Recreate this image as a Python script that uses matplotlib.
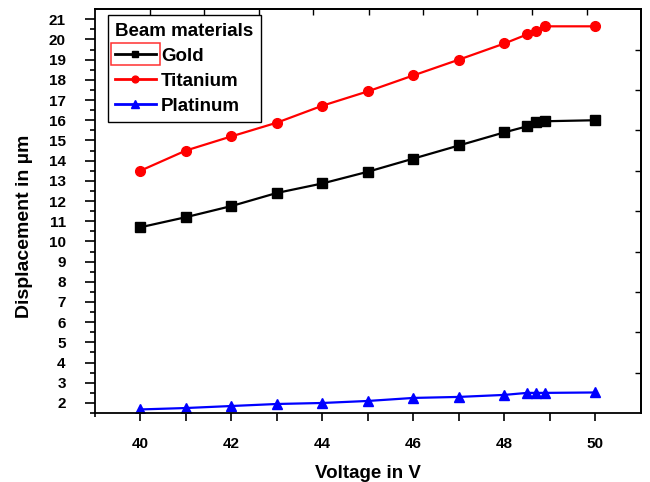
import numpy as np
import matplotlib
matplotlib.use("Agg")
import matplotlib.pyplot as plt
from matplotlib.ticker import FixedLocator, FuncFormatter
from matplotlib.patches import Rectangle

plt.rcParams['font.family'] = ['Liberation Sans', 'DejaVu Sans']

# data
voltage = [40, 41, 42, 43, 44, 45, 46, 47, 48, 48.5, 48.7, 48.9, 50]
gold = [10.7, 11.2, 11.75, 12.4, 12.87, 13.45, 14.1, 14.75, 15.4, 15.7, 15.9, 15.95, 16.0]
titanium = [13.5, 14.5, 15.2, 15.88, 16.72, 17.43, 18.22, 19.0, 19.8, 20.25, 20.42, 20.65, 20.65]
platinum = [1.68, 1.75, 1.85, 1.95, 2.0, 2.1, 2.25, 2.3, 2.4, 2.5, 2.5, 2.5, 2.52]

x_labels = [40, 42, 44, 46, 48, 50]
y_ticks = list(range(2, 22))

fig = plt.figure(figsize=(6.5, 4.82), dpi=100)
ax = fig.add_axes([0.146, 0.143, 0.84, 0.838])

ax.plot(voltage, gold, color='black', marker='s', markersize=7, lw=1.6, label='Gold')
ax.plot(voltage, titanium, color='red', marker='o', markersize=7, lw=1.6, label='Titanium')
ax.plot(voltage, platinum, color='blue', marker='^', markersize=7.5, lw=1.6, label='Platinum')

ax.set_xlim(39, 51)
ax.set_ylim(1.5, 21.5)

ax.xaxis.set_major_locator(FixedLocator(list(range(40, 51))))
ax.xaxis.set_minor_locator(FixedLocator([39]))
ax.xaxis.set_major_formatter(FuncFormatter(lambda v, p: str(int(v)) if int(v) in x_labels else ''))
ax.yaxis.set_major_locator(FixedLocator(y_ticks))
ax.yaxis.set_minor_locator(FixedLocator([v + 0.5 for v in range(1, 21)]))

ax.tick_params(axis='x', which='major', direction='out', length=6, width=1.2, labelsize=11, pad=11)
ax.tick_params(axis='x', which='minor', direction='out', length=3, width=1.2)
ax.tick_params(axis='y', which='major', direction='out', length=7, width=1.2, labelsize=11, pad=14)
ax.tick_params(axis='y', which='minor', direction='out', length=3.5, width=1.2)
for lab in ax.get_xticklabels() + ax.get_yticklabels():
    lab.set_fontweight('bold')

# inward ticks on top and right
top = ax.secondary_xaxis('top')
top.set_xticks([40.22, 41.4, 42.6, 43.8, 45.02, 46.2, 47.4, 48.6, 49.82])
top.tick_params(direction='in', length=4, width=1, labeltop=False)
right = ax.secondary_yaxis('right')
right.set_yticks([3.5, 5.5, 7.5, 9.5, 11.5, 13.5, 15.5, 17.5, 19.5])
right.tick_params(direction='in', length=4, width=1, labelright=False)
for s in ax.spines.values():
    s.set_linewidth(1.3)
top.spines['top'].set_linewidth(1.3)
right.spines['right'].set_linewidth(1.3)

ax.set_xlabel('Voltage in V', fontsize=13.5, fontweight='bold', labelpad=10)
ax.set_ylabel('Displacement in µm', fontsize=14, fontweight='bold')
ax.yaxis.set_label_coords(-0.114, 0.463)

leg = ax.legend(loc='upper left', bbox_to_anchor=(0.0235, 0.985), title='Beam materials',
                prop={'size': 13.5, 'weight': 'bold'}, title_fontsize=13.5, frameon=True,
                fancybox=False, edgecolor='black', framealpha=1, handlelength=2.15,
                handletextpad=0.3, labelspacing=0.42, borderpad=0.4, borderaxespad=0,
                markerscale=0.7)
leg._legend_box.align = 'left'
leg.get_title().set_fontweight('bold')
leg.get_frame().set_linewidth(1.0)
for h in leg.legend_handles:
    h.set_linewidth(2.0)

# red selection box drawn round the Gold legend handle, as in the source image
fig.canvas.draw()
r = fig.canvas.get_renderer()
bb = leg.legend_handles[0].get_window_extent(r)
cy = (bb.y0 + bb.y1) / 2
fig.patches.append(Rectangle((bb.x0 - 1, cy - 11), bb.width + 2, 22, transform=None,
                             fill=False, edgecolor='#ff3030', lw=1.1))

fig.savefig('out.png', dpi=100)
